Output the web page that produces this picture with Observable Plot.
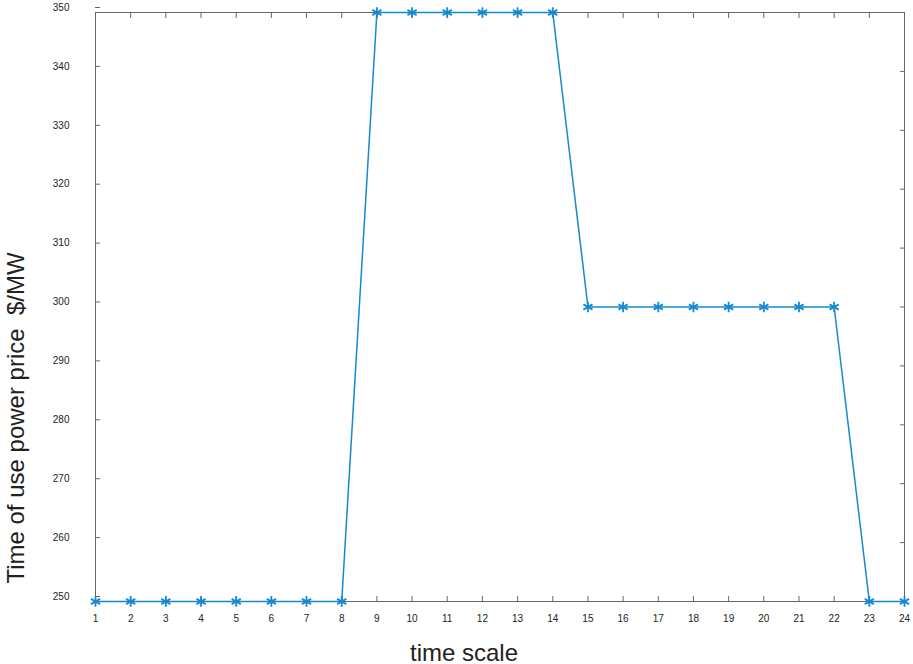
<!DOCTYPE html>
<html>
<head>
<meta charset="utf-8">
<script src="https://cdn.jsdelivr.net/npm/d3@7"></script>
<script src="https://cdn.jsdelivr.net/npm/@observablehq/plot@0.6"></script>
<style>
  html, body { margin: 0; padding: 0; background: #fff; }
  svg { font-family: "Liberation Sans", Arial, sans-serif; }
</style>
</head>
<body>
<div id="chart"></div>
<script>
const hours = [1,2,3,4,5,6,7,8,9,10,11,12,13,14,15,16,17,18,19,20,21,22,23,24];
const prices = [250,250,250,250,250,250,250,250,350,350,350,350,350,350,300,300,300,300,300,300,300,300,250,250];
const xTicks = hours;
const yTicks = [250,260,270,280,290,300,310,320,330,340,350];
const xLabel = "time scale";
const yLabel = "Time of use power price  $/MW";
const lineColor = "#1689d3";

const data = hours.map((h, i) => ({hour: h, price: prices[i]}));

const chart = Plot.plot({
  width: 913,
  height: 664,
  marginLeft: 95,
  marginRight: 9,
  marginTop: 12,
  marginBottom: 63,
  x: {domain: [1, 24]},
  y: {domain: [250, 350]},
  marks: [
    Plot.frame({stroke: "#666", strokeWidth: 1}),
    Plot.axisX({anchor: "bottom", ticks: xTicks, tickSize: -5, tickPadding: 18, fontSize: 10, color: "#222", stroke: "#666", label: null}),
    Plot.axisX({anchor: "top", ticks: xTicks, tickSize: -5, tickFormat: () => "", stroke: "#666", label: null}),
    Plot.axisY({anchor: "left", ticks: yTicks, tickSize: -5, tickPadding: 31, fontSize: 10, color: "#222", stroke: "#666", dy: -5, label: null}),
    Plot.axisY({anchor: "right", ticks: yTicks, tickSize: -5, tickFormat: () => "", stroke: "#666", label: null}),
    Plot.line(data, {x: "hour", y: "price", stroke: lineColor, strokeWidth: 1.5}),
    Plot.dot(data, {x: "hour", y: "price", symbol: "asterisk", r: 5, stroke: lineColor, strokeWidth: 1.8}),
    Plot.text([xLabel], {frameAnchor: "bottom", dx: -36, dy: 59, fontSize: 24, fill: "#222"}),
    Plot.text([yLabel], {frameAnchor: "left", textAnchor: "middle", rotate: -90, dx: -79, dy: 111, fontSize: 24, fill: "#222"})
  ]
});
document.getElementById("chart").appendChild(chart);
</script>
</body>
</html>
